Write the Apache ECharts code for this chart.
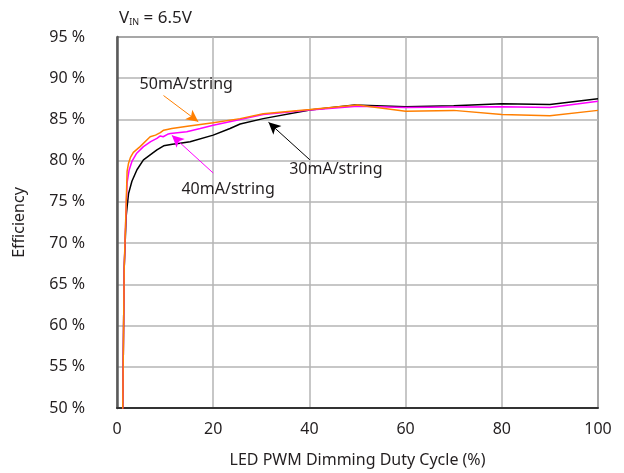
<!DOCTYPE html>
<html>
<head>
<meta charset="utf-8">
<script src="https://cdn.jsdelivr.net/npm/echarts@6/dist/echarts.min.js"></script>
<style>
html,body{margin:0;padding:0;background:#fff;}
#chart{width:624px;height:473px;}
</style>
</head>
<body>
<div id="chart"></div>
<script>
// Duty cycle (%) and efficiency (%) per series
const duty30 = [1.1, 1.5, 1.9, 2.1, 2.4, 3.1, 4.15, 5.5, 6.9, 8.3, 9.7, 11.5, 13.1, 15.2, 20, 23.5, 25.6, 30.4, 40.1, 49.4, 60, 70, 80, 90, 100];
const eff30  = [45, 67, 73.2, 74.4, 76.0, 77.5, 78.9, 80.1, 80.7, 81.3, 81.8, 82.0, 82.1, 82.3, 83.1, 83.9, 84.45, 85.1, 86.15, 86.75, 86.55, 86.65, 86.9, 86.8, 87.5];

const duty40 = [1.1, 1.5, 1.9, 2.1, 2.5, 3.1, 4.1, 5.5, 7.0, 8.3, 9.0, 9.6, 10.5, 11.1, 14.5, 17.3, 20, 25.6, 30.4, 40.1, 50, 60, 70, 80, 90, 100];
const eff40  = [45, 67, 74.2, 77.3, 78.8, 79.9, 80.9, 81.7, 82.3, 82.7, 83.0, 82.9, 83.2, 83.3, 83.5, 83.9, 84.3, 85.0, 85.6, 86.15, 86.6, 86.45, 86.5, 86.55, 86.45, 87.2];

const duty50 = [1.1, 1.5, 1.9, 2.1, 2.4, 2.8, 3.4, 4.8, 6.2, 6.9, 8.0, 9.0, 9.7, 11.4, 15, 20, 25.6, 30.4, 40.1, 50, 60, 70, 80, 90, 100];
const eff50  = [45, 67, 74.6, 78.7, 79.7, 80.4, 81.0, 81.7, 82.5, 82.9, 83.1, 83.4, 83.7, 83.9, 84.2, 84.6, 85.1, 85.7, 86.2, 86.75, 86.0, 86.1, 85.6, 85.45, 86.1];

const seriesNames = ['30mA/string', '40mA/string', '50mA/string'];
const seriesColors = ['#000000', '#ff00ff', '#ff7f00'];

// annotation anchors in data coordinates: label [x,y], arrow start [x,y], arrow tip [x,y]
const label30 = [45.5, 78.9], arrowFrom30 = [40.1, 80.1], arrowTo30 = [31.5, 84.65];
const label40 = [23.1, 76.55], arrowFrom40 = [20.0, 78.5], arrowTo40 = [11.4, 83.07];
const label50 = [14.4, 89.2], arrowFrom50 = [9.67, 87.9], arrowTo50 = [16.9, 84.73];

const xTicks = [0, 20, 40, 60, 80, 100];
const yTicks = [50, 55, 60, 65, 70, 75, 80, 85, 90, 95];

function zip(xs, ys){ return xs.map((x,i)=>[x, ys[i]]); }

const FONT = 'Noto Sans';
const FS = 16;
const TXT = '#231f20';
const chart = echarts.init(document.getElementById('chart'), null, {renderer:'canvas'});

function mkSeries(idx, xs, ys, lab, from, to){
  const c = seriesColors[idx];
  return {
    name: seriesNames[idx],
    type: 'line',
    data: zip(xs, ys),
    showSymbol: false,
    symbol: 'none',
    clip: true,
    z: 3 + idx,
    lineStyle: {color: c, width: 1.5},
    itemStyle: {color: c},
    animation: false,
    markLine: {
      silent: true,
      animation: false,
      symbol: ['none', 'arrow'],
      symbolSize: [9, 12],
      lineStyle: {color: c, width: 1, type: 'solid'},
      label: {show: false},
      data: [[{coord: from}, {coord: to}]]
    },
    markPoint: {
      silent: true,
      animation: false,
      symbol: 'circle',
      symbolSize: 0,
      label: {
        show: true, position: 'inside', formatter: seriesNames[idx],
        color: TXT, fontFamily: FONT, fontSize: FS
      },
      data: [{coord: lab}]
    }
  };
}

chart.setOption({
  backgroundColor: '#fff',
  animation: false,
  title: {
    text: 'V{sub|IN} = 6.5V',
    left: 114, top: 4,
    textStyle: {
      fontFamily: FONT, fontSize: 17, fontWeight: 'normal', color: TXT,
      rich: { sub: {fontFamily: FONT, fontSize: 9, color: TXT, verticalAlign: 'bottom', padding: [9,0,0,0]} }
    }
  },
  grid: {left: 117, right: 26, top: 37, bottom: 57, show: true, borderColor: '#000', borderWidth: 1, backgroundColor: 'transparent'},
  xAxis: {
    type: 'value', min: xTicks[0], max: xTicks[xTicks.length-1], interval: 20,
    name: 'LED PWM Dimming Duty Cycle (%)', nameLocation: 'middle', nameGap: 44,
    nameTextStyle: {fontFamily: FONT, fontSize: FS, color: TXT},
    axisLine: {show: true, lineStyle: {color: '#333', width: 2}},
    axisTick: {show: false},
    axisLabel: {fontFamily: FONT, fontSize: FS, color: TXT, margin: 13},
    splitLine: {show: true, lineStyle: {color: '#b4b4b4', width: 1.5}}
  },
  yAxis: {
    type: 'value', min: yTicks[0], max: yTicks[yTicks.length-1], interval: 5,
    name: 'Efficiency', nameLocation: 'middle', nameGap: 90, nameRotate: 90,
    nameTextStyle: {fontFamily: FONT, fontSize: FS, color: TXT},
    axisLine: {show: true, lineStyle: {color: '#5a5a5a', width: 2.5}},
    axisTick: {show: false},
    axisLabel: {fontFamily: FONT, fontSize: FS, color: TXT, margin: 32, formatter: '{value} %'},
    splitLine: {show: true, lineStyle: {color: '#b4b4b4', width: 1.5}}
  },
  series: [
    mkSeries(0, duty30, eff30, label30, arrowFrom30, arrowTo30),
    mkSeries(1, duty40, eff40, label40, arrowFrom40, arrowTo40),
    mkSeries(2, duty50, eff50, label50, arrowFrom50, arrowTo50)
  ]
});
</script>
</body>
</html>
